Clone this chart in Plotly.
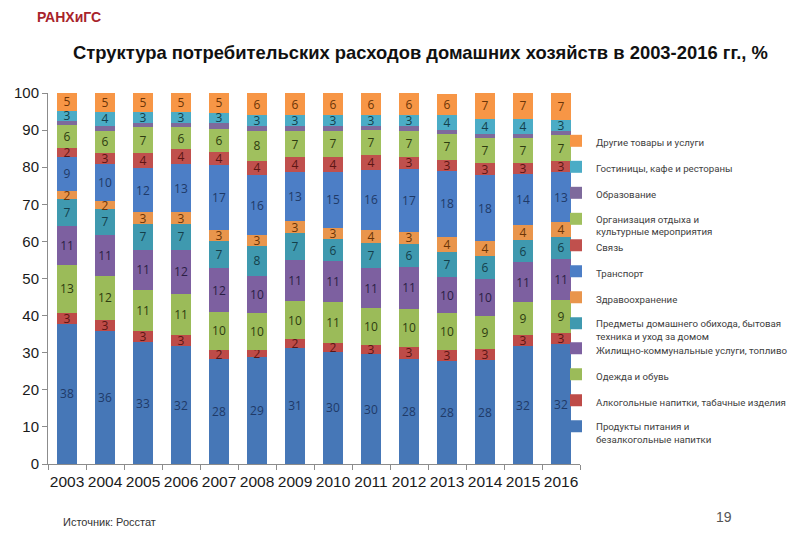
import plotly.graph_objects as go

years = ["2003", "2004", "2005", "2006", "2007", "2008", "2009",
         "2010", "2011", "2012", "2013", "2014", "2015", "2016"]

food      = [37.8, 35.8, 32.8, 31.8, 28.3, 28.8, 31.3, 30.3, 29.6, 28.4, 27.8, 28.0, 31.8, 32.3]
alcohol   = [3.0, 3.0, 3.0, 3.0, 2.4, 2.0, 2.3, 2.3, 2.6, 3.2, 3.0, 3.0, 3.0, 3.0]
clothes   = [12.8, 12.0, 11.0, 11.0, 10.4, 10.0, 10.3, 11.0, 9.8, 10.2, 9.8, 9.0, 8.8, 9.0]
housing   = [10.6, 11.0, 11.0, 12.0, 11.6, 10.0, 11.2, 11.0, 10.8, 11.3, 9.8, 10.0, 10.8, 11.0]
household = [7.2, 7.0, 7.0, 7.0, 7.3, 8.0, 7.2, 6.0, 6.8, 6.3, 6.8, 6.0, 6.0, 6.0]
health    = [2.2, 2.0, 3.0, 3.0, 3.2, 3.0, 3.1, 3.0, 3.6, 3.2, 4.0, 4.0, 4.0, 4.0]
transport = [9.2, 10.0, 12.0, 13.0, 17.3, 16.0, 13.3, 15.2, 16.0, 17.0, 17.8, 18.0, 13.8, 13.3]
comm      = [2.3, 3.0, 4.0, 4.0, 3.6, 4.0, 4.0, 4.0, 4.0, 3.2, 3.0, 3.0, 3.0, 3.0]
recreation= [6.2, 6.0, 7.0, 6.0, 6.3, 8.0, 7.0, 7.0, 6.8, 7.0, 7.0, 7.0, 6.8, 7.0]
education = [1.2, 1.2, 1.2, 1.2, 1.5, 1.2, 1.4, 1.2, 1.0, 1.2, 1.0, 1.0, 1.0, 1.2]
hotels    = [2.7, 4.0, 3.0, 3.0, 2.8, 3.0, 2.9, 3.0, 3.0, 3.0, 4.0, 4.0, 4.0, 3.0]
other     = [4.8, 5.0, 5.0, 5.0, 5.3, 6.0, 6.0, 6.0, 6.0, 6.0, 5.8, 7.0, 7.0, 7.2]

series = [
    ("Продукты питания и<br>безалкогольные напитки", food, "#4677B7", "#1F3A68", "legend3"),
    ("Алкогольные напитки, табачные изделия", alcohol, "#BE4B48", "#5C1614", "legend3"),
    ("Одежда и обувь", clothes, "#9BBB59", "#2E3C10", "legend3"),
    ("Жилищно-коммунальные услуги, топливо", housing, "#7D60A0", "#2B1E45", "legend3"),
    ("Предметы домашнего обихода, бытовая<br>техника и уход за домом", household, "#3F99AF", "#143F4A", "legend2"),
    ("Здравоохранение", health, "#E9954C", "#6B3508", "legend2"),
    ("Транспорт", transport, "#4C7EC6", "#1F3A68", "legend2"),
    ("Связь", comm, "#C0504D", "#5C1614", "legend2"),
    ("Организация отдыха и<br>культурные мероприятия", recreation, "#A0C05E", "#2E3C10", "legend"),
    ("Образование", education, "#7E6A9C", "#2B1E45", "legend"),
    ("Гостиницы, кафе и рестораны", hotels, "#4BACC6", "#143F4A", "legend"),
    ("Другие товары и услуги", other, "#F79646", "#6B3508", "legend"),
]

fig = go.Figure()
n = len(series)
for i, (name, vals, col, tcol, lg) in enumerate(series):
    show_text = name != "Образование"
    fig.add_trace(go.Bar(
        x=years, y=vals, name=name,
        marker=dict(color=col, line=dict(width=0)),
        texttemplate="%{y:.0f}" if show_text else None,
        textposition="inside" if show_text else "none",
        insidetextanchor="middle",
        textangle=0,
        textfont=dict(family="Open Sans, Arial, sans-serif", size=12, color=tcol),
        legend=lg, legendgroup=name, legendrank=n - i,
        hoverinfo="x+y+name",
    ))

# screen-pixel helpers (page body adds an 8px offset)
PL, PR, H0, H100 = 48, 580, 464, 93
def px(v):
    return (v - PL) / (PR - PL)
def py(v):
    return (H0 - v) / (H0 - H100)

legend_common = dict(
    font=dict(family="Roboto, Open Sans, Arial, sans-serif", size=9.7, color="#404040"),
    traceorder="grouped", tracegroupgap=7, valign="top",
    bgcolor="rgba(0,0,0,0)", borderwidth=0,
    xanchor="left", yanchor="top", x=px(556),
)

fig.update_layout(
    width=800, height=554,
    barmode="stack", bargap=0.46,
    paper_bgcolor="white", plot_bgcolor="white",
    margin=dict(l=40, r=228, t=85, b=98, autoexpand=False),
    uniformtext=dict(minsize=12, mode="show"),
    legend=dict(**legend_common, y=py(128)),
    legend2=dict(**legend_common, y=py(232.5)),
    legend3=dict(**legend_common, y=py(335.5)),
    xaxis=dict(
        type="category", showline=True, linecolor="#8C8C8C", linewidth=1,
        ticks="outside", tickson="boundaries", ticklen=5, tickcolor="#8C8C8C",
        tickangle=0, automargin=False, ticklabelstandoff=3,
        tickfont=dict(family="Liberation Sans, Arial, sans-serif", size=15.5, color="#1A1A1A"),
        showgrid=False,
    ),
    yaxis=dict(
        range=[0, 100], dtick=10, showline=True, linecolor="#8C8C8C", linewidth=1,
        ticks="outside", ticklen=5, tickcolor="#8C8C8C", automargin=False,
        tickfont=dict(family="Liberation Sans, Arial, sans-serif", size=15, color="#1A1A1A"),
        showgrid=False, zeroline=False,
    ),
    annotations=[
        dict(text="<b>Структура потребительских расходов домашних хозяйств в 2003-2016 гг., %</b>",
             xref="paper", yref="paper", x=px(420), y=py(53),
             xanchor="center", yanchor="middle", showarrow=False,
             font=dict(family="Liberation Sans, Arial, sans-serif", size=18.4, color="#111111")),
        dict(text="Источник: Росстат", xref="paper", yref="paper",
             x=px(61), y=py(522), xanchor="left", yanchor="middle", showarrow=False,
             font=dict(family="Liberation Sans, Arial, sans-serif", size=11, color="#333333")),
        dict(text="19", xref="paper", yref="paper",
             x=px(724), y=py(517), xanchor="center", yanchor="middle", showarrow=False,
             font=dict(family="Liberation Sans, Arial, sans-serif", size=14, color="#555555")),
        dict(text="<b>РАНХиГС</b>", xref="paper", yref="paper",
             x=px(35), y=py(17), xanchor="left", yanchor="middle", showarrow=False,
             font=dict(family="Liberation Sans, Arial, sans-serif", size=14, color="#A8232B")),
    ],
)

fig.write_html("out.html")
